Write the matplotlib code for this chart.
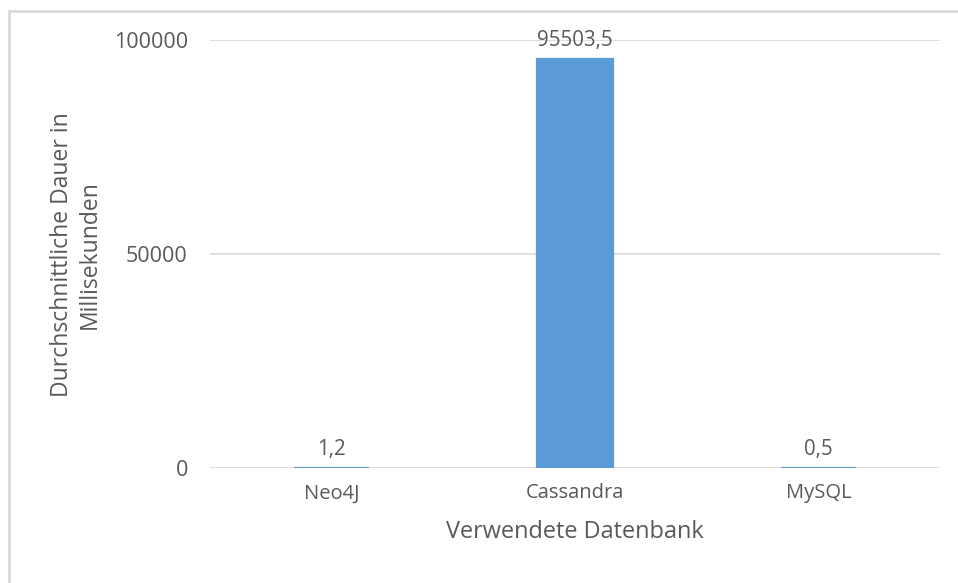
import matplotlib
matplotlib.use("Agg")
import matplotlib.pyplot as plt
from matplotlib.patches import Rectangle

categories = ["Neo4J", "Cassandra", "MySQL"]
durations_ms = [1.2, 95503.5, 0.5]
y_ticks = [0, 50000, 100000]

BAR, GRID, INK = "#5B9BD5", "#D9D9D9", "#595959"
plt.rcParams.update({"font.family": ["Open Sans", "DejaVu Sans"], "font.size": 14.5})

fig = plt.figure(figsize=(9.58, 5.83), dpi=100)
ax = fig.add_axes([0.2192, 0.1973, 0.762, 0.7341])
ax.set_axisbelow(True)

x = range(len(categories))
ax.bar(x, durations_ms, width=0.31, color=BAR, edgecolor=BAR, linewidth=1.6, zorder=3)
for i, v in zip(x, durations_ms):
    ax.annotate(f"{v:g}".replace(".", ","), (i, v), xytext=(0, 6), textcoords="offset points",
                ha="center", va="bottom", color=INK, fontsize=14.8)

ax.set_xlim(-0.5, 2.5)
ax.set_ylim(0, 100000)
ax.set_yticks(y_ticks)
ax.set_yticklabels([str(t) for t in y_ticks])
ax.set_xticks(list(x))
ax.set_xticklabels(categories)
ax.tick_params(axis="both", length=0, colors=INK, labelsize=14.5)
ax.tick_params(axis="y", pad=16, labelsize=15.5)
ax.tick_params(axis="x", pad=11)
ax.grid(axis="y", color=GRID, linewidth=1.2)
for s in ax.spines.values():
    s.set_visible(False)

ax.set_xlabel("Verwendete Datenbank", color=INK, fontsize=16.9, labelpad=12)
fig.text(0.0795, 0.5635, "Durchschnittliche Dauer in\nMillisekunden", rotation=90,
         ha="center", va="center", color=INK, fontsize=16.5, linespacing=1.2)

# chart frame as in the Excel export
fig.patches.append(Rectangle((9 / 958, -0.01), 1.0, 1 - 11 / 583 + 0.01, transform=fig.transFigure,
                             fill=False, edgecolor=GRID, linewidth=2))

fig.savefig("out.png", dpi=100)
